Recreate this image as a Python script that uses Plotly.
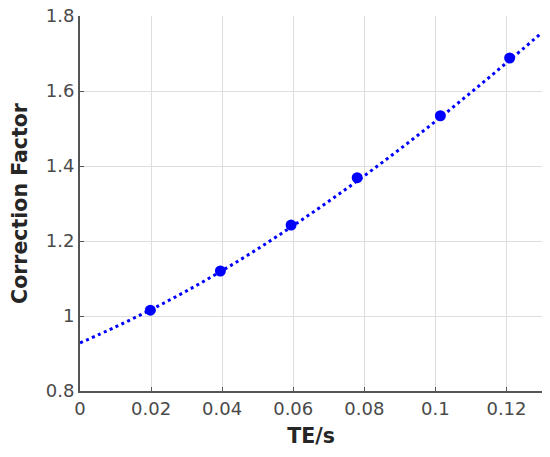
import plotly.graph_objects as go

# Measured data points
te_points = [0.0198, 0.0395, 0.0594, 0.078, 0.1014, 0.1209]
cf_points = [1.0155, 1.120, 1.2425, 1.369, 1.534, 1.688]

# Fitted curve
te_curve = [0.0, 0.01, 0.02, 0.03, 0.04, 0.05, 0.06, 0.07, 0.08, 0.09, 0.10, 0.11, 0.12, 0.13]
cf_curve = [0.928, 0.971, 1.017, 1.067, 1.121, 1.179, 1.241, 1.306, 1.374, 1.445, 1.519, 1.596, 1.675, 1.756]

x_ticks = [0, 0.02, 0.04, 0.06, 0.08, 0.1, 0.12]
x_tick_labels = ["0", "0.02", "0.04", "0.06", "0.08", "0.1", "0.12"]
y_ticks = [0.8, 1.0, 1.2, 1.4, 1.6, 1.8]
y_tick_labels = ["0.8", "1", "1.2", "1.4", "1.6", "1.8"]

fig = go.Figure()
fig.add_trace(go.Scatter(
    x=te_curve, y=cf_curve, mode="lines",
    line=dict(color="#0000ff", width=3, dash="3px,3.5px", shape="spline"),
    showlegend=False, hoverinfo="skip",
))
fig.add_trace(go.Scatter(
    x=te_points, y=cf_points, mode="markers",
    marker=dict(color="#0000ff", size=11),
    showlegend=False,
))

font_fam = "DejaVu Sans, Arial, sans-serif"
fig.update_layout(
    width=550, height=457,
    margin=dict(l=80, r=8, t=16, b=66, autoexpand=False),
    paper_bgcolor="white", plot_bgcolor="white",
    font=dict(family=font_fam, size=18, color="#4a4a4a"),
    xaxis=dict(
        range=[0, 0.13], tickvals=x_ticks, ticktext=x_tick_labels,
        showgrid=True, gridcolor="#dedede", gridwidth=1,
        showline=True, linecolor="#555555", linewidth=2,
        ticks="inside", ticklen=4, tickcolor="#555555", tickwidth=1,
        zeroline=False, mirror=False, automargin=False,
        tickfont=dict(size=18, color="#4a4a4a"),
        title=dict(text="<b>TE/s</b>", font=dict(size=20.5, color="#262626"), standoff=11),
    ),
    yaxis=dict(
        range=[0.8, 1.8], tickvals=y_ticks, ticktext=y_tick_labels,
        showgrid=True, gridcolor="#dedede", gridwidth=1,
        showline=True, linecolor="#555555", linewidth=2,
        ticks="inside", ticklen=4, tickcolor="#555555", tickwidth=1,
        zeroline=False, mirror=False, automargin=False,
        tickfont=dict(size=18, color="#4a4a4a"),
        title=dict(text="<b>Correction Factor</b>", font=dict(size=20.5, color="#262626"), standoff=13),
    ),
)

fig.write_html("out.html", config={"displayModeBar": False},
               post_script="document.body.style.margin='0';")
